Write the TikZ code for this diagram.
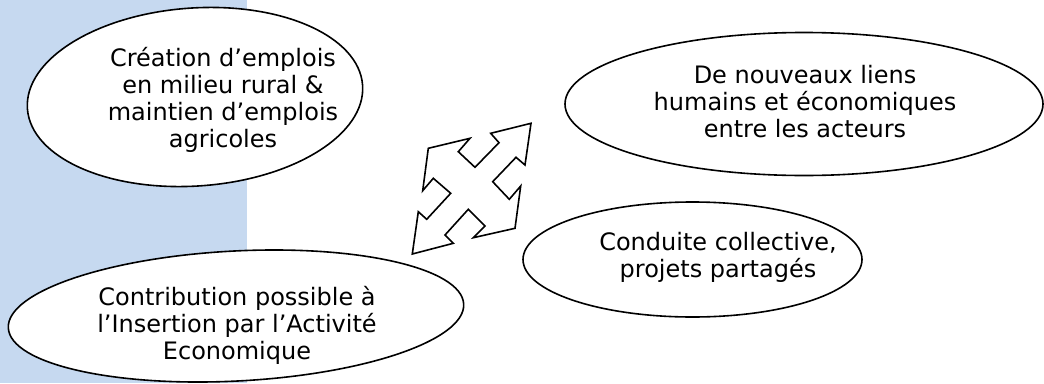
\documentclass[tikz,border=0pt]{standalone}
\usepackage{fontspec}
\setmainfont{DejaVu Sans}
\usetikzlibrary{positioning}
\definecolor{bandblue}{RGB}{198,217,240}
\tikzset{
  bubble/.style={draw=black,fill=white,line width=1.6pt},
  bubbletext/.style={align=center,inner sep=0pt,font=\fontsize{24}{27}\selectfont},
  crossarrow/.style={draw=black,fill=white,line width=1.6pt,line join=miter}
}
\begin{document}
\begin{tikzpicture}[x=1pt,y=-1pt]
\useasboundingbox (0,0) rectangle (1044,383);
\clip (0,0) rectangle (1044,383);
\fill[bandblue] (0,0) rectangle (247,383);

% bulles
\draw[bubble,rotate around={4:(195,97)}] (195,97) ellipse [x radius=168, y radius=89];
\draw[bubble] (804,104) ellipse [x radius=239, y radius=71.5];
\draw[bubble] (692.5,259.5) ellipse [x radius=169.5, y radius=57.5];
\draw[bubble,rotate around={3:(236,316)}] (236,316) ellipse [x radius=228, y radius=65];

% fleche a quatre branches
\draw[crossarrow] (531.0,123.3) -- (525.0,165.0) -- (516.0,157.3) -- (492.7,181.7)
  -- (509.3,199.3) -- (520.7,186.0) -- (515.0,228.3) -- (473.3,237.7)
  -- (485.0,226.0) -- (468.3,209.3) -- (445.0,235.0) -- (453.3,243.3)
  -- (412.3,254.0) -- (418.3,211.7) -- (426.7,219.3) -- (450.7,193.3)
  -- (433.3,178.3) -- (422.7,190.7) -- (428.3,148.3) -- (470.0,138.3)
  -- (458.3,151.7) -- (475.0,167.3) -- (499.0,142.7) -- (490.7,133.3) -- cycle;

\node[bubbletext] (creation) at (223,99.4) {Création d’emplois\\en milieu rural \&\\maintien d’emplois\\agricoles};
\node[bubbletext] (liens) at (805,101.1) {De nouveaux liens\\humains et économiques\\entre les acteurs};
\node[bubbletext] (conduite) at (718,257) {Conduite collective,\\projets partagés};
\node[bubbletext] (insertion) at (237,325.4) {Contribution possible à\\l’Insertion par l’Activité\\Economique};

\end{tikzpicture}
\end{document}
